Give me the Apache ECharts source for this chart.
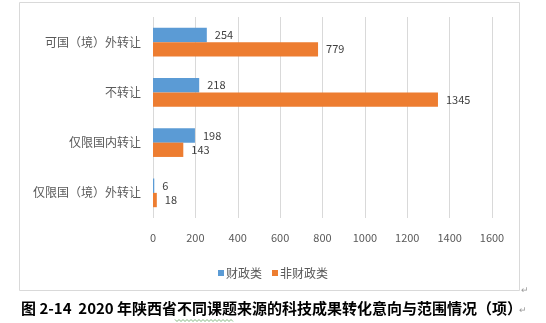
<!DOCTYPE html>
<html>
<head>
<meta charset="utf-8">
<script src="https://cdn.jsdelivr.net/npm/echarts@6/dist/echarts.min.js"></script>
<style>
  html, body { margin: 0; padding: 0; background: #fff; }
  #chart { width: 546px; height: 323px; }
</style>
</head>
<body>
<div id="chart"></div>
<script>
// Categories listed bottom-to-top along the category axis
const categories = ['仅限国（境）外转让', '仅限国内转让', '不转让', '可国（境）外转让'];
const fiscal = [6, 198, 218, 254];        // 财政类
const nonFiscal = [18, 143, 1345, 779];   // 非财政类
const seriesNames = ['财政类', '非财政类'];
const xTicks = { min: 0, max: 1600, interval: 200 };
const caption = '图 2-14  2020 年陕西省不同课题来源的科技成果转化意向与范围情况（项）';

const FONT = '"Noto Sans CJK SC", "Microsoft YaHei", sans-serif';
const chart = echarts.init(document.getElementById('chart'), null, { renderer: 'canvas' });

const labelStyle = {
  show: true,
  position: 'right',
  distance: 8,
  color: '#404040',
  fontSize: 11,
  fontFamily: FONT
};

// Green squiggle under part of the caption (editor proofing mark)
function squiggle(x0, x1, y, step) {
  const pts = [];
  let up = true;
  for (let x = x0; x <= x1; x += step) {
    pts.push([x, up ? y - 1 : y + 1]);
    up = !up;
  }
  return pts;
}

chart.setOption({
  animation: false,
  backgroundColor: '#ffffff',
  grid: { left: 153, right: 54, top: 17, bottom: 105, containLabel: false },
  legend: {
    data: seriesNames,
    top: 262,
    left: 'center',
    itemWidth: 6,
    itemHeight: 6,
    itemGap: 10,
    icon: 'rect',
    textStyle: { color: '#595959', fontSize: 12, fontFamily: FONT, padding: [0, 0, 0, -3] }
  },
  xAxis: {
    type: 'value',
    min: xTicks.min,
    max: xTicks.max,
    interval: xTicks.interval,
    axisLine: { show: false },
    axisTick: { show: false },
    axisLabel: {
      color: '#595959', fontSize: 11, fontFamily: FONT, margin: 14,
      formatter: v => String(v)
    },
    splitLine: { show: true, lineStyle: { color: '#d9d9d9', width: 1 } }
  },
  yAxis: {
    type: 'category',
    data: categories,
    axisLine: { show: false },
    axisTick: { show: false },
    axisLabel: { color: '#595959', fontSize: 12, fontFamily: FONT, margin: 12 },
    splitLine: { show: false }
  },
  series: [
    {
      name: seriesNames[0],
      type: 'bar',
      data: fiscal,
      itemStyle: { color: '#5b9bd5' },
      barGap: '0%',
      barCategoryGap: '43%',
      label: labelStyle
    },
    {
      name: seriesNames[1],
      type: 'bar',
      data: nonFiscal,
      itemStyle: { color: '#ed7d31' },
      barGap: '0%',
      barCategoryGap: '43%',
      label: labelStyle
    }
  ],
  graphic: [
    {
      type: 'rect',
      silent: true,
      shape: { x: 19.5, y: 2.5, width: 500, height: 288 },
      style: { fill: 'none', stroke: '#d9d9d9', lineWidth: 1 }
    },
    {
      type: 'text',
      x: 21,
      y: 308,
      style: {
        text: caption,
        fill: '#000000',
        font: 'bold 15px ' + FONT,
        verticalAlign: 'middle'
      }
    },
    {
      type: 'polyline',
      silent: true,
      shape: { points: squiggle(175, 233, 320.5, 2) },
      style: { stroke: '#5fa35f', lineWidth: 0.8, fill: 'none' }
    },
    {
      type: 'text',
      x: 521,
      y: 290,
      style: { text: '↵', fill: '#999999', font: '9px ' + FONT, verticalAlign: 'middle' }
    },
    {
      type: 'text',
      x: 519,
      y: 310,
      style: { text: '↵', fill: '#999999', font: '9px ' + FONT, verticalAlign: 'middle' }
    }
  ]
});
</script>
</body>
</html>
